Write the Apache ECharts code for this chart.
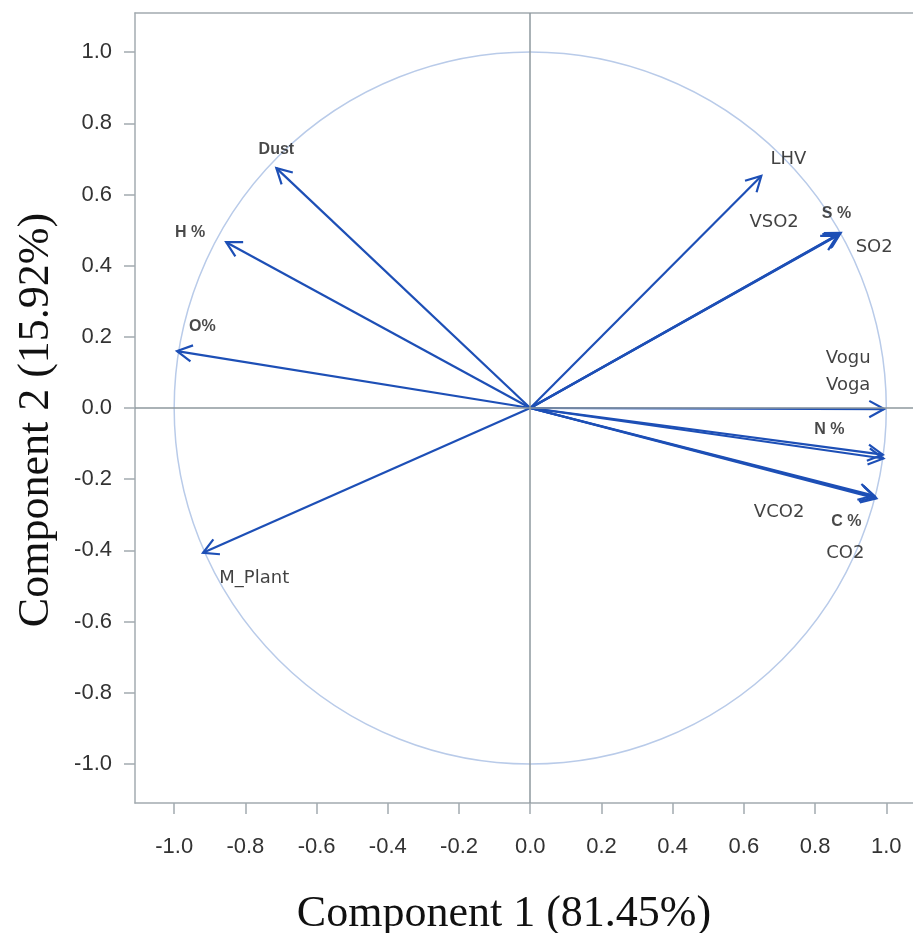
<!DOCTYPE html>
<html>
<head>
<meta charset="utf-8">
<script src="https://cdn.jsdelivr.net/npm/echarts@6/dist/echarts.min.js"></script>
<style>
  html, body { margin: 0; padding: 0; background: #fff; }
  #chart { width: 913px; height: 933px; }
</style>
</head>
<body>
<div id="chart"></div>
<script>
// loadings: arrow end points [component 1, component 2]
var arrowNames = ['Dust', 'H %', 'O%', 'M_Plant', 'LHV', 'VSO2', 'S %', 'SO2',
                  'Vogu', 'Voga', 'N %', 'VCO2', 'C %', 'CO2'];
var comp1 = [-0.713, -0.854, -0.992, -0.919, 0.649, 0.862, 0.868, 0.872,
             0.994, 0.990, 0.992, 0.965, 0.969, 0.972];
var comp2 = [0.674, 0.466, 0.160, -0.407, 0.652, 0.484, 0.489, 0.492,
             -0.003, -0.131, -0.142, -0.246, -0.250, -0.254];

// label positions chosen by the original plot (so they do not collide)
var labelText = ['Dust', 'H %', 'O%', 'M_Plant', 'LHV', 'VSO2', 'S %', 'SO2',
                 'Vogu', 'Voga', 'N %', 'VCO2', 'C %', 'CO2'];
var labelX = [-0.713, -0.955, -0.921, -0.775, 0.725, 0.685, 0.860, 0.966,
              0.893, 0.893, 0.840, 0.699, 0.888, 0.885];
var labelY = [0.725, 0.494, 0.228, -0.478, 0.699, 0.522, 0.545, 0.452,
              0.140, 0.065, -0.062, -0.292, -0.320, -0.407];
var boldLabels = ['Dust', 'H %', 'O%', 'N %', 'S %', 'C %'];

var tickValues = [-1.0, -0.8, -0.6, -0.4, -0.2, 0.0, 0.2, 0.4, 0.6, 0.8, 1.0];

var chart = echarts.init(document.getElementById('chart'));

var arrowData = [];
for (var i = 0; i < comp1.length; i++) {
    arrowData.push({ name: arrowNames[i], value: [comp1[i], comp2[i]] });
}
var labelData = [];
for (var j = 0; j < labelText.length; j++) {
    var bold = boldLabels.indexOf(labelText[j]) >= 0;
    labelData.push({
        name: labelText[j],
        value: [labelX[j], labelY[j]],
        label: bold
            ? { fontFamily: 'Liberation Sans', fontWeight: 'bold', fontSize: 16, color: '#1a1a1a' }
            : { fontFamily: 'DejaVu Sans', fontWeight: 'normal', fontSize: 18, color: '#111' }
    });
}

var gray = '#a3abb0';
var blue = '#1d4fb6';

function fmt(v) {
    return Math.abs(v) < 1e-9 ? '0.0' : v.toFixed(1);
}

var titleStyle = { fontFamily: 'Liberation Serif', fontSize: 44, color: '#111' };

var option = {
    animation: false,
    grid: { left: 135, top: 13, width: 778, height: 790, outerBoundsMode: 'none' },
    xAxis: [{
        type: 'value', min: -1.11, max: 1.075,
        name: 'Component 1 (81.45%)',
        nameLocation: 'middle', nameGap: 89,
        nameTextStyle: Object.assign({ padding: [0, 40, 0, 0] }, titleStyle),
        axisLine: { show: true, onZero: false, lineStyle: { color: gray, width: 1.5 } },
        axisTick: { show: true, length: 11, customValues: tickValues, lineStyle: { color: gray, width: 1.5 } },
        axisLabel: {
            customValues: tickValues, formatter: fmt, margin: 33,
            fontFamily: 'Liberation Sans', fontSize: 22, color: '#333'
        },
        splitLine: { show: false }
    }, {
        // top frame line
        type: 'value', min: -1.11, max: 1.075, position: 'top',
        axisLine: { show: true, onZero: false, lineStyle: { color: gray, width: 1.5 } },
        axisTick: { show: false }, axisLabel: { show: false }, splitLine: { show: false }
    }],
    yAxis: {
        type: 'value', min: -1.11, max: 1.11,
        name: 'Component 2 (15.92%)',
        nameLocation: 'middle', nameGap: 77,
        nameTextStyle: Object.assign({ padding: [0, 24, 0, 0] }, titleStyle),
        axisLine: { show: true, onZero: false, lineStyle: { color: gray, width: 1.5 } },
        axisTick: { show: true, length: 11, customValues: tickValues, lineStyle: { color: gray, width: 1.5 } },
        axisLabel: {
            customValues: tickValues, formatter: fmt, margin: 23,
            fontFamily: 'Liberation Sans', fontSize: 22, color: '#333'
        },
        splitLine: { show: false }
    },
    series: [
        {
            // unit circle
            type: 'custom',
            silent: true,
            data: [[0, 0]],
            renderItem: function (params, api) {
                var c = api.coord([0, 0]);
                var r = api.size([1, 0])[0];
                return {
                    type: 'circle',
                    shape: { cx: c[0], cy: c[1], r: r },
                    style: { fill: 'none', stroke: '#b9cbe9', lineWidth: 1.5 }
                };
            },
            markLine: {
                silent: true, symbol: 'none', label: { show: false },
                lineStyle: { color: '#8e989e', width: 1.5, type: 'solid' },
                data: [{ xAxis: 0 }, { yAxis: 0 }]
            },
            z: 1
        },
        {
            // loading arrows
            type: 'custom',
            data: arrowData,
            renderItem: function (params, api) {
                var o = api.coord([0, 0]);
                var p = api.coord([api.value(0), api.value(1)]);
                var ang = Math.atan2(p[1] - o[1], p[0] - o[0]);
                var len = 17, spread = 0.5;
                var a1 = [p[0] - len * Math.cos(ang - spread), p[1] - len * Math.sin(ang - spread)];
                var a2 = [p[0] - len * Math.cos(ang + spread), p[1] - len * Math.sin(ang + spread)];
                var st = { stroke: blue, lineWidth: 2.2, fill: 'none' };
                return {
                    type: 'group',
                    children: [
                        { type: 'line', shape: { x1: o[0], y1: o[1], x2: p[0], y2: p[1] }, style: st },
                        { type: 'polyline', shape: { points: [a1, p, a2] }, style: st }
                    ]
                };
            },
            z: 3
        },
        {
            type: 'scatter',
            data: labelData,
            symbolSize: 0,
            silent: true,
            label: { show: true, position: 'inside', formatter: '{b}' },
            z: 4
        }
    ]
};

chart.setOption(option);
</script>
</body>
</html>
